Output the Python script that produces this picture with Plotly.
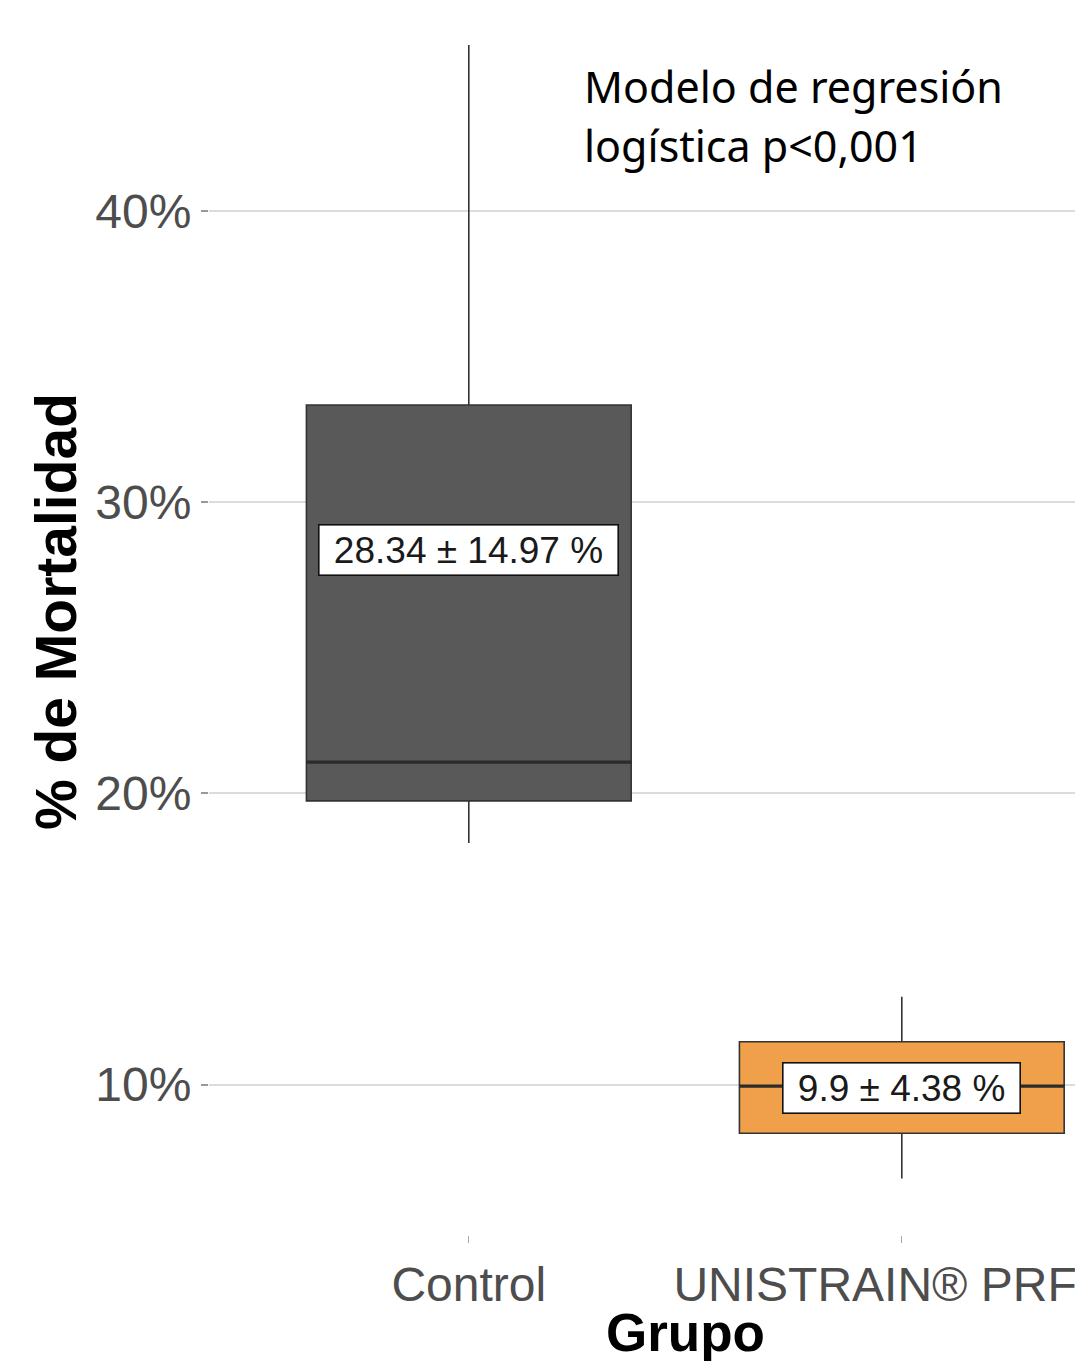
import plotly.graph_objects as go

# ---- data ----
groups = ["Control", "UNISTRAIN® PRF"]
q1 = [19.74, 8.33]
median = [21.07, 9.95]
q3 = [33.33, 11.47]
lower_whisker = [18.29, 6.78]
upper_whisker = [45.69, 13.02]
means = [28.34, 9.9]
sds = [14.97, 4.38]
fill_colors = ["#595959", "#F0A04B"]
y_ticks = [10, 20, 30, 40]
y_tick_labels = ["10%", "20%", "30%", "40%"]

annot_line1 = "Modelo de regresión"
annot_line2 = "logística p<0,001"

W, H = 1075, 1361
ML, MB = 209, 126
xpos = [1, 2]
BOX_W = 0.75
NB = "\u00a0"

fig = go.Figure()
for i, g in enumerate(groups):
    fig.add_trace(go.Box(
        x=[xpos[i]], q1=[q1[i]], median=[median[i]], q3=[q3[i]],
        lowerfence=[lower_whisker[i]], upperfence=[upper_whisker[i]],
        width=BOX_W, whiskerwidth=0, boxpoints=False,
        fillcolor=fill_colors[i],
        line=dict(color="#333333", width=1.6),
        name=g, showlegend=False, hoverinfo="skip",
    ))
    # thicker median line, as in ggplot
    fig.add_trace(go.Scatter(
        x=[xpos[i] - BOX_W / 2, xpos[i] + BOX_W / 2], y=[median[i], median[i]],
        mode="lines", line=dict(color="#2b2b2b", width=3.2),
        showlegend=False, hoverinfo="skip",
    ))

# mean ± sd labels
for i, g in enumerate(groups):
    fig.add_annotation(
        x=xpos[i], y=means[i], xref="x", yref="y",
        text=f"{NB}{means[i]} ± {sds[i]} %{NB}", showarrow=False,
        font=dict(family="Liberation Sans, Arial", size=37, color="#1a1a1a"),
        bgcolor="white", bordercolor="#111111", borderwidth=1.6, borderpad=4,
        xanchor="center", yanchor="middle",
    )

plot_h = H - MB
plot_w = W - ML

def px_to_paper_y(py):
    return (plot_h - py) / plot_h

def px_to_paper_x(px):
    return (px - ML) / plot_w

# regression model note
fig.add_annotation(x=px_to_paper_x(582), y=px_to_paper_y(87), xref="paper", yref="paper",
                   text=annot_line1, showarrow=False, xanchor="left", yanchor="middle",
                   font=dict(family="Noto Sans", size=43, color="black"))
fig.add_annotation(x=px_to_paper_x(582), y=px_to_paper_y(145), xref="paper", yref="paper",
                   text=annot_line2, showarrow=False, xanchor="left", yanchor="middle",
                   font=dict(family="Noto Sans", size=43, color="black"))

# axis titles
fig.add_annotation(x=px_to_paper_x(56), y=px_to_paper_y(612), xref="paper", yref="paper",
                   text="<b>% de Mortalidad</b>", textangle=-90, showarrow=False,
                   xanchor="center", yanchor="middle",
                   font=dict(family="Liberation Sans, Arial", size=57, color="black"))
fig.add_annotation(x=1.5, y=px_to_paper_y(1333), xref="x", yref="paper",
                   text="<b>Grupo</b>", showarrow=False,
                   xanchor="center", yanchor="middle",
                   font=dict(family="Liberation Sans, Arial", size=53, color="black"))

y_lo = 30 - (plot_h - 502) / 29.13
y_hi = 30 + 502 / 29.13

# the second label continues past the cropped right edge in the reference
x_tick_text = [groups[0], groups[1] + NB * 4]

fig.update_layout(
    width=W, height=H,
    margin=dict(l=ML, r=0, t=0, b=MB, pad=0, autoexpand=False),
    plot_bgcolor="white", paper_bgcolor="white",
    font=dict(family="Liberation Sans, Arial", color="#4D4D4D"),
    xaxis=dict(range=[0.4, 2.4], tickvals=xpos, ticktext=x_tick_text,
               showgrid=False, zeroline=False, showline=False, automargin=False,
               ticks="outside", ticklen=7, tickwidth=1.2, tickcolor="#aaaaaa",
               ticklabeloverflow="allow",
               tickfont=dict(size=48, color="#4D4D4D")),
    yaxis=dict(range=[y_lo, y_hi], tickvals=y_ticks, ticktext=y_tick_labels,
               showgrid=True, gridcolor="#DCDCDC", gridwidth=1.5,
               zeroline=False, showline=False, automargin=False,
               ticks="outside", ticklen=7, tickwidth=1.5, tickcolor="#999999",
               tickfont=dict(size=48, color="#4D4D4D")),
)

fig.write_html("out.html")
